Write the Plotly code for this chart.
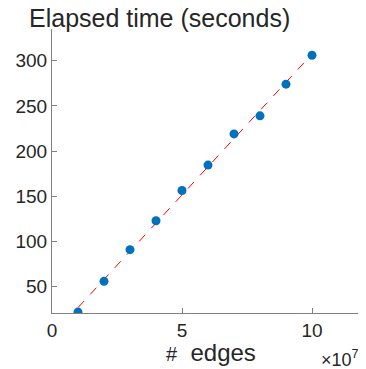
import numpy as np
import plotly.graph_objects as go

edges = [1e7, 2e7, 3e7, 4e7, 5e7, 6e7, 7e7, 8e7, 9e7, 10e7]
elapsed = [22, 56, 91, 123, 156.5, 184.5, 219, 239, 274, 306]
x_ticks = [0, 5e7, 10e7]
x_tick_labels = ["0", "5", "10"]
y_ticks = [50, 100, 150, 200, 250, 300]

slope, intercept = np.polyfit(edges, elapsed, 1)
fit_x = [edges[0], edges[-1]]
fit_y = [slope * v + intercept for v in fit_x]

FONT = "Liberation Sans, Arial, Helvetica, sans-serif"
AX = "#808080"
TXT = "#262626"

fig = go.Figure()
fig.add_trace(go.Scatter(x=fit_x, y=fit_y, mode="lines",
                         line=dict(color="#FF0000", width=1, dash="dash"),
                         showlegend=False))
fig.add_trace(go.Scatter(x=edges, y=elapsed, mode="markers",
                         marker=dict(color="#0072BD", size=9, line=dict(width=0)),
                         showlegend=False))

fig.update_layout(
    width=358, height=361,
    margin=dict(l=44, r=2, t=21, b=56),
    paper_bgcolor="white", plot_bgcolor="white",
    font=dict(family=FONT, color=TXT, size=18),
    xaxis=dict(range=[0, 1.2e8], tickvals=x_ticks, ticktext=x_tick_labels,
               showgrid=False, zeroline=False, showline=True, linecolor=AX,
               linewidth=1, ticks="inside", ticklen=5, tickcolor=AX,
               automargin=False, tickfont=dict(size=19, color=TXT)),
    yaxis=dict(range=[21, 335], tickvals=y_ticks,
               showgrid=False, zeroline=False, showline=True, linecolor=AX,
               linewidth=1, ticks="inside", ticklen=5, tickcolor=AX,
               automargin=False, tickfont=dict(size=19, color=TXT)),
    annotations=[
        dict(text="Elapsed time (seconds)", xref="paper", yref="paper",
             x=-0.08, y=1.04, xanchor="left", yanchor="middle",
             showarrow=False, font=dict(size=25, color=TXT)),
        dict(text="<span style='font-size:20px'>#</span>  edges", xref="paper", yref="paper",
             x=0.51, y=-0.138, xanchor="center", yanchor="middle",
             showarrow=False, font=dict(size=24, color=TXT)),
        dict(text="×10<sup>7</sup>", xref="paper", yref="paper",
             x=0.99, y=-0.16, xanchor="right", yanchor="middle",
             showarrow=False, font=dict(size=18, color=TXT)),
    ],
)

fig.write_html("out.html")
